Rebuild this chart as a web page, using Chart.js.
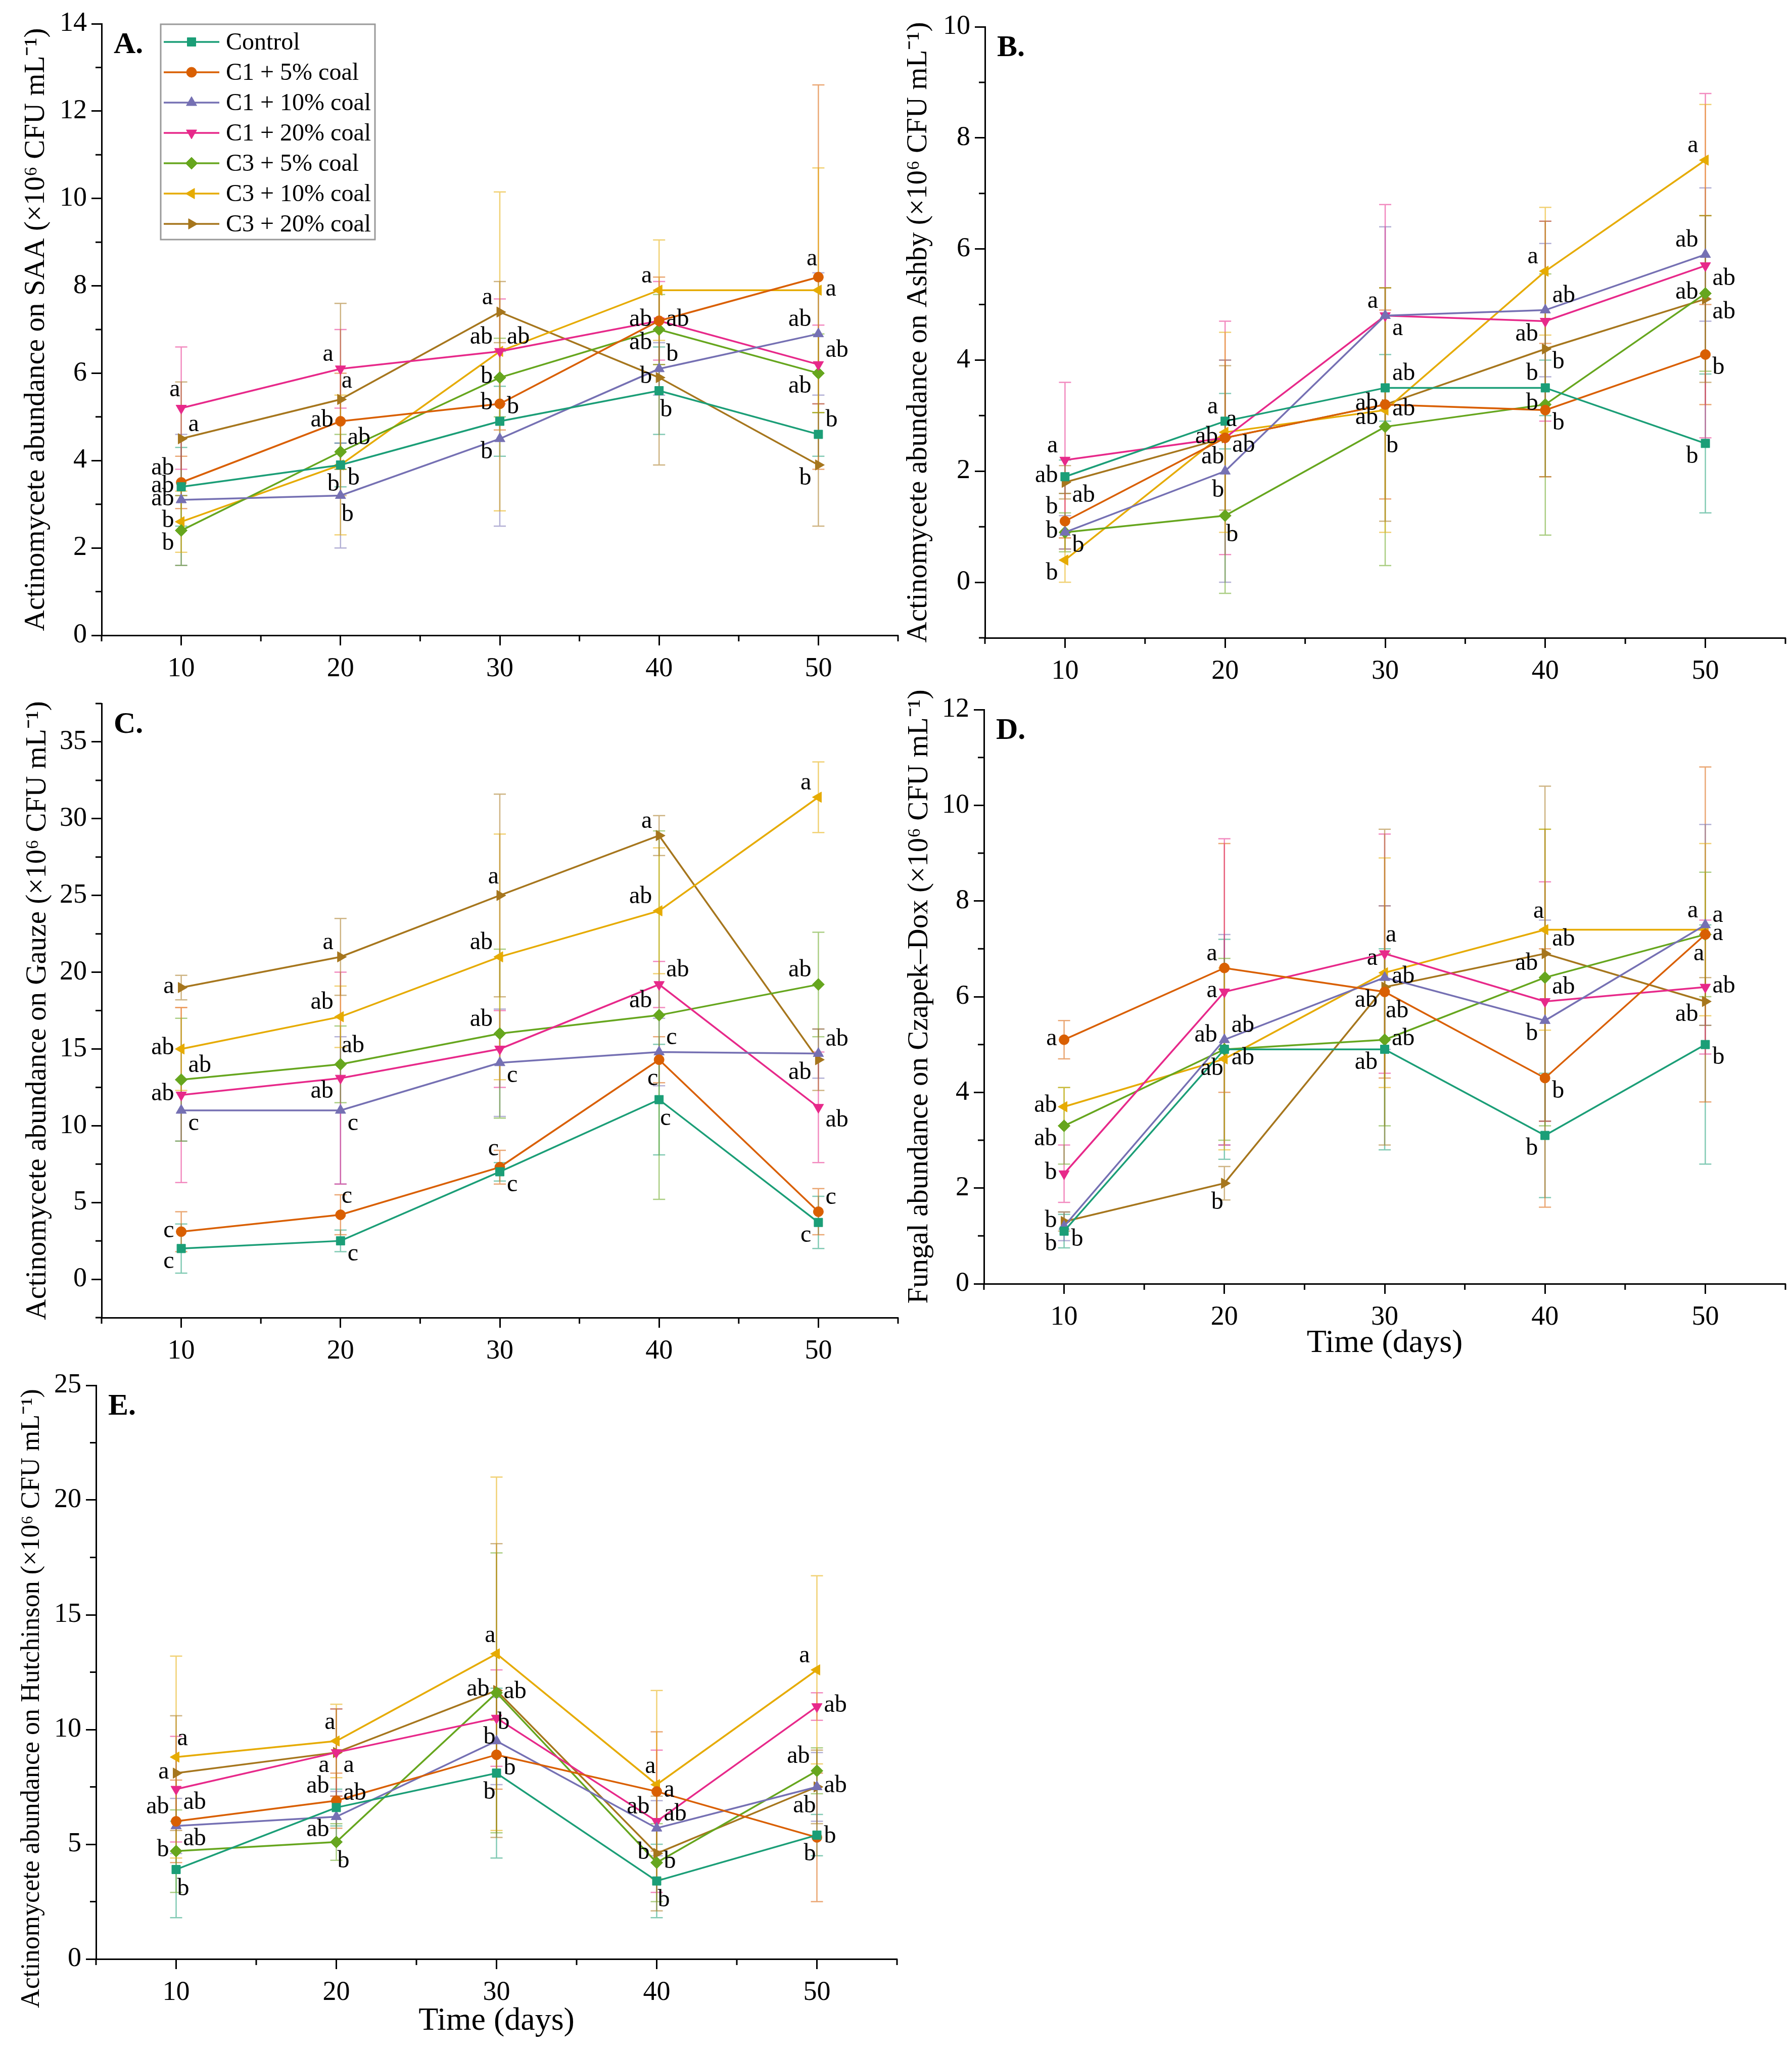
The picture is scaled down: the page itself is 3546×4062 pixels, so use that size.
<!DOCTYPE html>
<html>
<head>
<meta charset="utf-8">
<script src="https://cdn.jsdelivr.net/npm/chart.js@4.4.1/dist/chart.umd.min.js"></script>
<style>
  html, body { margin: 0; padding: 0; background: #fff; }
  #page { position: relative; width: 3546px; height: 4062px; overflow: hidden; background: #fff; }
  canvas { position: absolute; }
</style>
</head>
<body>
<div id="page"></div>
<script>
// ---- data ----
const days = [10, 20, 30, 40, 50];
const xTicks = [10, 20, 30, 40, 50];
const seriesNames = ['Control', 'C1 + 5% coal', 'C1 + 10% coal', 'C1 + 20% coal',
  'C3 + 5% coal', 'C3 + 10% coal', 'C3 + 20% coal'];

// rows = series (same order as seriesNames), columns = days
const saaMean = [
  [3.4, 3.9, 4.9, 5.6, 4.6],
  [3.5, 4.9, 5.3, 7.2, 8.2],
  [3.1, 3.2, 4.5, 6.1, 6.9],
  [5.2, 6.1, 6.5, 7.2, 6.2],
  [2.4, 4.2, 5.9, 7.0, 6.0],
  [2.6, 3.9, 6.5, 7.9, 7.9],
  [4.5, 5.4, 7.4, 5.9, 3.9]
];
const saaSd = [
  [0.9, 0.5, 0.8, 1.0, 0.5],
  [0.6, 1.1, 0.6, 1.0, 4.4],
  [1.5, 1.2, 2.0, 0.6, 1.4],
  [1.4, 0.9, 1.2, 0.9, 0.9],
  [0.8, 0.4, 0.9, 0.8, 0.9],
  [0.7, 1.6, 3.65, 1.15, 2.8],
  [1.3, 2.2, 0.7, 2.0, 1.4]
];
const ashbyMean = [
  [1.9, 2.9, 3.5, 3.5, 2.5],
  [1.1, 2.6, 3.2, 3.1, 4.1],
  [0.9, 2.0, 4.8, 4.9, 5.9],
  [2.2, 2.6, 4.8, 4.7, 5.7],
  [0.9, 1.2, 2.8, 3.2, 5.2],
  [0.4, 2.7, 3.1, 5.6, 7.6],
  [1.8, 2.6, 3.2, 4.2, 5.1]
];
const ashbySd = [
  [0.3, 0.5, 0.6, 0.5, 1.25],
  [0.5, 1.4, 1.7, 1.2, 0.9],
  [0.3, 2.0, 1.6, 1.2, 1.2],
  [1.4, 2.1, 2.0, 1.8, 3.1],
  [0.35, 1.4, 2.5, 2.35, 1.4],
  [0.4, 1.8, 2.2, 1.15, 1.0],
  [0.3, 1.3, 2.1, 2.3, 1.5]
];
const gauzeMean = [
  [2.0, 2.5, 7.0, 11.7, 3.7],
  [3.1, 4.2, 7.3, 14.3, 4.4],
  [11.0, 11.0, 14.1, 14.8, 14.7],
  [12.0, 13.1, 15.0, 19.2, 11.2],
  [13.0, 14.0, 16.0, 17.2, 19.2],
  [15.0, 17.1, 21.0, 24.0, 31.4],
  [19.0, 21.0, 25.0, 28.9, 14.3]
];
const gauzeSd = [
  [1.6, 0.7, 0.6, 3.6, 1.7],
  [1.3, 1.3, 1.1, 1.5, 1.5],
  [2.0, 4.8, 3.5, 2.2, 1.6],
  [5.7, 6.9, 2.5, 1.5, 3.6],
  [4.0, 2.5, 5.5, 12.0, 3.4],
  [2.7, 2.0, 8.0, 4.1, 2.3],
  [0.8, 2.5, 6.6, 1.3, 2.0]
];
const czapekMean = [
  [1.1, 4.9, 4.9, 3.1, 5.0],
  [5.1, 6.6, 6.1, 4.3, 7.3],
  [1.2, 5.1, 6.4, 5.5, 7.5],
  [2.3, 6.1, 6.9, 5.9, 6.2],
  [3.3, 4.9, 5.1, 6.4, 7.3],
  [3.7, 4.7, 6.5, 7.4, 7.4],
  [1.3, 2.1, 6.2, 6.9, 5.9]
];
const czapekSd = [
  [0.35, 2.3, 2.1, 1.3, 2.5],
  [0.4, 2.6, 1.8, 2.7, 3.5],
  [0.3, 2.2, 1.5, 2.1, 2.1],
  [0.6, 3.2, 2.5, 2.5, 1.4],
  [0.8, 1.9, 1.8, 3.1, 1.3],
  [0.4, 1.9, 2.4, 2.1, 1.8],
  [0.2, 0.35, 3.3, 3.5, 0.5]
];
const hutchMean = [
  [3.9, 6.6, 8.1, 3.4, 5.4],
  [6.0, 6.9, 8.9, 7.3, 5.3],
  [5.8, 6.2, 9.5, 5.7, 7.5],
  [7.4, 9.0, 10.5, 6.0, 11.0],
  [4.7, 5.1, 11.6, 4.2, 8.2],
  [8.8, 9.5, 13.3, 7.6, 12.6],
  [8.1, 9.0, 11.7, 4.6, 7.5]
];
const hutchSd = [
  [2.1, 0.8, 3.7, 1.6, 0.9],
  [1.8, 1.2, 1.5, 2.6, 2.8],
  [1.2, 1.1, 1.9, 1.2, 1.5],
  [2.3, 1.9, 2.1, 3.1, 0.6],
  [1.8, 0.8, 6.1, 1.7, 1.0],
  [4.4, 1.6, 7.7, 4.1, 4.1],
  [2.5, 1.9, 6.4, 2.5, 1.6]
];

// significance letters: rows = days, columns = series
const saaLetters = [
  ['ab', 'ab', 'ab', 'a', 'b', 'b', 'a'],
  ['b', 'ab', 'b', 'a', 'ab', 'b', 'a'],
  ['b', 'b', 'b', 'ab', 'b', 'ab', 'a'],
  ['b', 'ab', 'b', 'ab', 'ab', 'a', 'b'],
  ['b', 'a', 'ab', 'ab', 'ab', 'a', 'b']
];
const ashbyLetters = [
  ['ab', 'b', 'b', 'a', 'b', 'b', 'ab'],
  ['a', 'ab', 'b', 'a', 'b', 'ab', 'ab'],
  ['ab', 'ab', 'a', 'a', 'b', 'ab', 'ab'],
  ['b', 'b', 'ab', 'ab', 'b', 'a', 'b'],
  ['b', 'b', 'ab', 'ab', 'ab', 'a', 'ab']
];
const gauzeLetters = [
  ['c', 'c', 'c', 'ab', 'ab', 'ab', 'a'],
  ['c', 'c', 'c', 'ab', 'ab', 'ab', 'a'],
  ['c', 'c', 'c', '', 'ab', 'ab', 'a'],
  ['c', 'c', 'c', 'ab', 'ab', 'ab', 'a'],
  ['c', 'c', 'ab', 'ab', 'ab', 'a', 'ab']
];
const czapekLetters = [
  ['b', 'a', 'b', 'b', 'ab', 'ab', 'b'],
  ['ab', 'a', 'ab', 'a', 'ab', 'ab', 'b'],
  ['ab', 'ab', 'ab', 'a', 'ab', 'a', 'ab'],
  ['b', 'b', 'b', 'ab', 'ab', 'a', 'ab'],
  ['b', 'a', 'a', 'ab', 'a', 'a', 'ab']
];
const hutchLetters = [
  ['b', 'ab', 'ab', 'ab', 'b', 'a', 'a'],
  ['ab', 'ab', 'ab', 'a', 'b', 'a', 'a'],
  ['b', 'b', 'b', 'b', 'ab', 'a', 'ab'],
  ['b', 'a', 'ab', 'ab', 'b', 'a', 'b'],
  ['b', 'b', 'ab', 'ab', 'ab', 'a', 'ab']
];

const saaYTicks = [0, 2, 4, 6, 8, 10, 12, 14];
const ashbyYTicks = [0, 2, 4, 6, 8, 10];
const gauzeYTicks = [0, 5, 10, 15, 20, 25, 30, 35];
const czapekYTicks = [0, 2, 4, 6, 8, 10, 12];
const hutchYTicks = [0, 5, 10, 15, 20, 25];

// ---- letter placement (side of the point), rows = days, columns = series ----
const saaLetterPos = [
  ['l', 'lu', 'l', 'ul', 'ld', 'l', 'ru'],
  ['rd', 'l', 'dr', 'lu', 'ru', 'dl', 'ur'],
  ['ru', 'l', 'ld', 'lu', 'l', 'ru', 'lu'],
  ['dr', 'r', 'ru', 'l', 'ld', 'lu', 'l'],
  ['ru', 'ul', 'lu', 'ru', 'ld', 'r', 'ld']
];
const ashbyLetterPos = [
  ['l', 'lu', 'l', 'lu', 'rd', 'ld', 'rd'],
  ['lu', 'l', 'dl', 'ur', 'dr', 'rd', 'dl'],
  ['ru', 'l', 'rd', 'lu', 'dr', 'r', 'ld'],
  ['lu', 'rd', 'ru', 'ld', 'l', 'lu', 'rd'],
  ['ld', 'rd', 'lu', 'rd', 'l', 'lu', 'rd']
];
const gauzeLetterPos = [
  ['ld', 'l', 'rd', 'l', 'ru', 'l', 'l'],
  ['rd', 'ur', 'rd', 'ld', 'ur', 'lu', 'lu'],
  ['rd', 'ul', 'rd', 'l', 'lu', 'lu', 'ul'],
  ['dr', 'dl', 'ru', 'ru', 'lu', 'lu', 'lu'],
  ['ld', 'ru', 'ru', 'rd', 'lu', 'lu', 'ld']
];
const czapekLetterPos = [
  ['ld', 'l', 'rd', 'l', 'ld', 'l', 'l'],
  ['lu', 'lu', 'ru', 'l', 'dl', 'r', 'dl'],
  ['ld', 'dr', 'r', 'ur', 'r', 'lu', 'ld'],
  ['ld', 'rd', 'ld', 'ru', 'lu', 'ul', 'ru'],
  ['rd', 'dl', 'lu', 'r', 'r', 'ru', 'ld']
];
const hutchLetterPos = [
  ['dr', 'lu', 'rd', 'rd', 'l', 'ur', 'l'],
  ['ru', 'lu', 'ld', 'ld', 'dr', 'ul', 'rd'],
  ['dl', 'rd', 'ur', 'dl', 'r', 'ul', 'l'],
  ['dr', 'r', 'ru', 'lu', 'r', 'ul', 'l'],
  ['dl', 'r', 'dl', 'r', 'lu', 'lu', 'r']
];

// ---- styles ----
const SERIF = '"Liberation Serif", "Times New Roman", serif';
const seriesColors = ['#1b9e77', '#d95f02', '#7570b3', '#e7298a', '#66a61e', '#e6ab02', '#a6761d'];
const pointStyles = ['rect', 'circle', 'triangle', 'triangle', 'rectRot', 'triangle', 'triangle'];
const pointRotations = [0, 0, 0, 180, 0, 270, 90];
const pointRadii = [12, 10, 12, 12, 12, 12, 12];

const POS = {
  ul: ['right', -2, -36], ur: ['left', 2, -36],
  lu: ['right', -14, -28], ru: ['left', 14, -28],
  l: ['right', -14, -2], r: ['left', 14, -2],
  ld: ['right', -14, 26], rd: ['left', 14, 26],
  dl: ['right', -2, 38], dr: ['left', 2, 38]
};

function drawMarker(ctx, i, x, y) {
  ctx.fillStyle = seriesColors[i];
  ctx.strokeStyle = seriesColors[i];
  ctx.lineWidth = 1;
  Chart.helpers.drawPoint(ctx, {
    pointStyle: pointStyles[i], rotation: pointRotations[i],
    radius: pointRadii[i], borderWidth: 1
  }, x, y);
}

const errorBars = {
  id: 'errorBars',
  beforeDatasetsDraw(chart) {
    const { ctx, scales: { x, y } } = chart;
    ctx.save();
    ctx.globalAlpha = 0.55;
    ctx.lineWidth = 2.5;
    chart.data.datasets.forEach((ds, i) => {
      ctx.strokeStyle = ds.borderColor;
      ds.sd.forEach((e, j) => {
        const v = ds.data[j].y;
        const px = x.getPixelForValue(ds.data[j].x);
        const top = y.getPixelForValue(v + e);
        const bot = y.getPixelForValue(v - e);
        ctx.beginPath();
        ctx.moveTo(px, top); ctx.lineTo(px, bot);
        ctx.moveTo(px - 12, top); ctx.lineTo(px + 12, top);
        ctx.moveTo(px - 12, bot); ctx.lineTo(px + 12, bot);
        ctx.stroke();
      });
    });
    ctx.restore();
  }
};

const letterLabels = {
  id: 'letterLabels',
  afterDatasetsDraw(chart, args, opts) {
    const { ctx } = chart;
    ctx.save();
    ctx.font = '48px ' + SERIF;
    ctx.fillStyle = '#000';
    ctx.textBaseline = 'middle';
    opts.letters.forEach((row, j) => {
      row.forEach((txt, i) => {
        if (!txt) return;
        const pt = chart.getDatasetMeta(i).data[j];
        const p = POS[opts.pos[j][i]];
        ctx.textAlign = p[0];
        ctx.fillText(txt, pt.x + p[1], pt.y + p[2]);
      });
    });
    ctx.restore();
  }
};

const decorations = {
  id: 'decorations',
  afterDraw(chart, args, opts) {
    const { ctx, chartArea, scales: { x, y } } = chart;
    ctx.save();
    // minor ticks
    ctx.strokeStyle = '#000';
    ctx.lineWidth = 3;
    ctx.beginPath();
    for (let v = x.min; v <= x.max + 1e-9; v += opts.minorX) {
      if (xTicks.includes(v)) continue;
      const px = x.getPixelForValue(v);
      ctx.moveTo(px, chartArea.bottom); ctx.lineTo(px, chartArea.bottom + 12);
    }
    for (let v = y.min; v <= y.max + 1e-9; v += opts.minorY) {
      if (opts.yTicks.includes(v)) continue;
      const py = y.getPixelForValue(v);
      ctx.moveTo(chartArea.left, py); ctx.lineTo(chartArea.left - 12, py);
    }
    ctx.stroke();
    // y title drawn by hand when it has to sit off-centre
    if (opts.yTitle) {
      ctx.save();
      ctx.translate(opts.yTitle.x, (chartArea.top + chartArea.bottom) / 2 + opts.yTitle.shift);
      ctx.rotate(-Math.PI / 2);
      ctx.font = opts.yTitle.size + 'px ' + SERIF;
      ctx.fillStyle = '#000';
      ctx.textAlign = 'center';
      ctx.textBaseline = 'middle';
      ctx.fillText(opts.yTitle.text, 0, 0);
      ctx.restore();
    }
    // panel letter
    ctx.font = 'bold 60px ' + SERIF;
    ctx.fillStyle = '#000';
    ctx.textAlign = 'left';
    ctx.textBaseline = 'alphabetic';
    ctx.fillText(opts.panel, chartArea.left + 24, chartArea.top + 58);
    // legend box
    if (opts.legend) {
      const bx = chartArea.left + 117, by = chartArea.top + 1, bw = 424, bh = 426;
      ctx.fillStyle = '#fff';
      ctx.fillRect(bx, by, bw, bh);
      ctx.strokeStyle = '#9a9a9a';
      ctx.lineWidth = 3;
      ctx.strokeRect(bx, by, bw, bh);
      ctx.font = '48px ' + SERIF;
      ctx.textBaseline = 'middle';
      chart.data.datasets.forEach((ds, i) => {
        const ry = by + 35 + i * 60;
        ctx.strokeStyle = seriesColors[i];
        ctx.lineWidth = 3.5;
        ctx.beginPath();
        ctx.moveTo(bx + 6, ry); ctx.lineTo(bx + 116, ry);
        ctx.stroke();
        drawMarker(ctx, i, bx + 61, ry);
        ctx.fillStyle = '#000';
        ctx.fillText(ds.label, bx + 129, ry + 2);
      });
    }
    ctx.restore();
  }
};

function makePanel(p) {
  const canvas = document.createElement('canvas');
  canvas.width = p.w; canvas.height = p.h;
  canvas.style.left = p.left + 'px';
  canvas.style.top = p.top + 'px';
  canvas.style.width = p.w + 'px';
  canvas.style.height = p.h + 'px';
  document.getElementById('page').appendChild(canvas);

  const datasets = seriesNames.map((name, i) => ({
    label: name,
    data: days.map((d, j) => ({ x: d, y: p.mean[i][j] })),
    sd: p.sd[i],
    borderColor: seriesColors[i],
    backgroundColor: seriesColors[i],
    borderWidth: 3.5,
    pointStyle: pointStyles[i],
    pointRotation: pointRotations[i],
    pointRadius: pointRadii[i],
    pointBorderWidth: 1,
    tension: 0
  }));

  const tickFont = { family: SERIF, size: 54 };
  const handTitle = p.yTitleShift !== undefined;
  new Chart(canvas, {
    type: 'line',
    data: { datasets },
    plugins: [errorBars, letterLabels, decorations],
    options: {
      responsive: false,
      animation: false,
      devicePixelRatio: 1,
      layout: { padding: { left: 0, top: p.padTop, right: p.padRight, bottom: 0 } },
      plugins: {
        legend: { display: false },
        tooltip: { enabled: false },
        letterLabels: { letters: p.letters, pos: p.letterPos },
        decorations: {
          panel: p.panel, legend: !!p.legend, minorX: 5, minorY: p.minorY, yTicks: p.yTicks,
          yTitle: handTitle ? { text: p.yTitle, x: p.yTitleX, shift: p.yTitleShift, size: p.yTitleSize } : null
        }
      },
      scales: {
        x: {
          type: 'linear', min: 5, max: 55,
          afterBuildTicks: s => { s.ticks = xTicks.map(v => ({ value: v })); },
          afterFit: s => { s.height = p.xH; },
          grid: { drawOnChartArea: false, tickLength: 20, tickWidth: 3, tickColor: '#000' },
          border: { color: '#000', width: 3 },
          ticks: { color: '#000', font: tickFont, padding: 14, maxRotation: 0 },
          title: p.xTitle ? {
            display: true, text: p.xTitle, color: '#000',
            font: { family: SERIF, size: 64 }, padding: { top: 0, bottom: p.xTitlePad }
          } : { display: false }
        },
        y: {
          type: 'linear', min: p.yMin, max: p.yMax,
          afterBuildTicks: s => { s.ticks = p.yTicks.map(v => ({ value: v })); },
          afterFit: s => { s.width = p.yW; },
          grid: { drawOnChartArea: false, tickLength: 20, tickWidth: 3, tickColor: '#000' },
          border: { color: '#000', width: 3 },
          ticks: { color: '#000', font: tickFont, padding: 9 },
          title: {
            display: !handTitle, text: p.yTitle, color: '#000',
            font: { family: SERIF, size: 57 }, padding: { top: p.yTitlePad || 0, bottom: 0 }
          }
        }
      }
    }
  });
}

makePanel({
  panel: 'A.', legend: true,
  left: 0, top: 0, w: 1790, h: 1390, yW: 201, padTop: 47, padRight: 11, xH: 133,
  yMin: 0, yMax: 14, minorY: 1, yTicks: saaYTicks,
  mean: saaMean, sd: saaSd, letters: saaLetters, letterPos: saaLetterPos,
  yTitle: 'Actinomycete abundance on SAA (×10⁶ CFU mL⁻¹)', yTitlePad: 38
});
makePanel({
  panel: 'B.',
  left: 1760, top: 0, w: 1786, h: 1390, yW: 189, padTop: 53, padRight: 6, xH: 128,
  yMin: -1, yMax: 10, minorY: 1, yTicks: ashbyYTicks,
  mean: ashbyMean, sd: ashbySd, letters: ashbyLetters, letterPos: ashbyLetterPos,
  yTitle: 'Actinomycete abundance on Ashby (×10⁶ CFU mL⁻¹)', yTitlePad: 24
});
makePanel({
  panel: 'C.',
  left: 0, top: 1340, w: 1790, h: 1390, yW: 201, padTop: 52, padRight: 11, xH: 123,
  yMin: -2.5, yMax: 37.5, minorY: 2.5, yTicks: gauzeYTicks,
  mean: gauzeMean, sd: gauzeSd, letters: gauzeLetters, letterPos: gauzeLetterPos,
  yTitle: 'Actinomycete abundance on Gauze (×10⁶ CFU mL⁻¹)', yTitlePad: 41
});
makePanel({
  panel: 'D.',
  left: 1760, top: 1340, w: 1786, h: 1400, yW: 187, padTop: 64, padRight: 6, xH: 200,
  yMin: 0, yMax: 12, minorY: 1, yTicks: czapekYTicks,
  mean: czapekMean, sd: czapekSd, letters: czapekLetters, letterPos: czapekLetterPos,
  yTitle: 'Fungal abundance on Czapek–Dox (×10⁶ CFU mL⁻¹)', yTitlePad: 26,
  xTitle: 'Time (days)', xTitlePad: 43
});
makePanel({
  panel: 'E.',
  left: 0, top: 2690, w: 1790, h: 1372, yW: 190, padTop: 51, padRight: 15, xH: 186,
  yMin: 0, yMax: 25, minorY: 2.5, yTicks: hutchYTicks,
  mean: hutchMean, sd: hutchSd, letters: hutchLetters, letterPos: hutchLetterPos,
  yTitle: 'Actinomycete abundance on Hutchinson (×10⁶ CFU mL⁻¹)',
  yTitleX: 63, yTitleShift: 52, yTitleSize: 52,
  xTitle: 'Time (days)', xTitlePad: 24
});
</script>
</body>
</html>
